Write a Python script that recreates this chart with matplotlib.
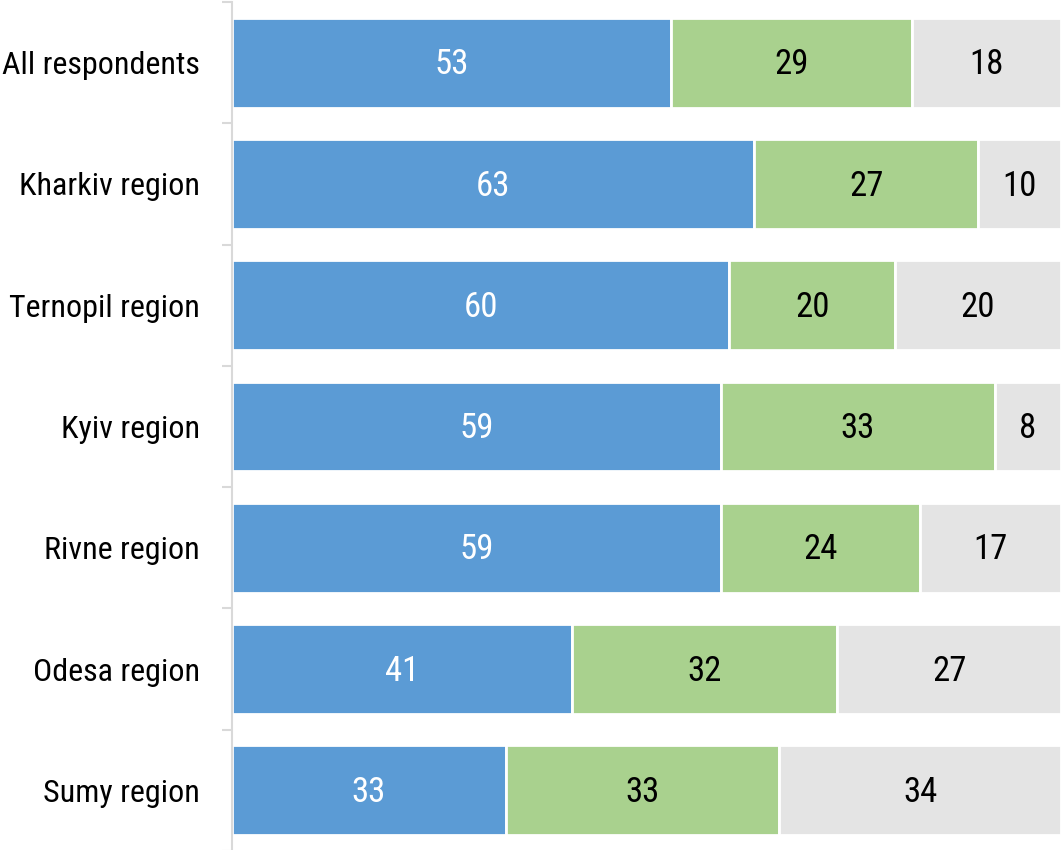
import matplotlib
matplotlib.use("Agg")
import matplotlib.pyplot as plt
from matplotlib import font_manager

categories = ["All respondents", "Kharkiv region", "Ternopil region", "Kyiv region",
              "Rivne region", "Odesa region", "Sumy region"]
series_a = [53, 63, 60, 59, 59, 41, 33]
series_b = [29, 27, 20, 33, 24, 32, 33]
series_c = [18, 10, 20, 8, 17, 27, 34]

colors = ["#5b9bd5", "#a9d18e", "#e4e4e4"]
text_colors = ["white", "black", "black"]

names = {f.name for f in font_manager.fontManager.ttflist}
family = "Roboto Condensed" if "Roboto Condensed" in names else "Roboto"
plt.rcParams["font.family"] = [family, "DejaVu Sans"]

fig = plt.figure(figsize=(10.61, 8.5), dpi=100)
ax = fig.add_axes([232 / 1061, -1 / 850, 829 / 1061, 849 / 850])

y = list(range(len(categories)))
left = [0] * len(categories)
for vals, col, tcol in zip([series_a, series_b, series_c], colors, text_colors):
    bars = ax.barh(y, vals, left=left, height=0.74, color=col,
                   edgecolor="white", linewidth=2)
    for bar, v in zip(bars, vals):
        ax.annotate(str(v),
                    (bar.get_x() + bar.get_width() / 2, bar.get_y() + bar.get_height() / 2),
                    xytext=(0, -1.5), textcoords="offset points",
                    ha="center", va="center", color=tcol, fontsize=25)
    left = [l + v for l, v in zip(left, vals)]

ax.set_xlim(0, 100)
ax.set_ylim(len(categories) - 0.5, -0.5)
ax.set_yticks(y)
ax.set_yticklabels(categories, fontsize=23)
ax.tick_params(axis="y", which="major", length=0, pad=23)
ax.set_yticks([i - 0.5 for i in range(len(categories) + 1)], minor=True)
ax.tick_params(axis="y", which="minor", length=7.5, width=1.5, color="#d9d9d9")
ax.set_xticks([])
for side in ["top", "right", "bottom"]:
    ax.spines[side].set_visible(False)
ax.spines["left"].set_color("#d9d9d9")
ax.spines["left"].set_linewidth(1.5)

fig.savefig("out.png", dpi=100)
